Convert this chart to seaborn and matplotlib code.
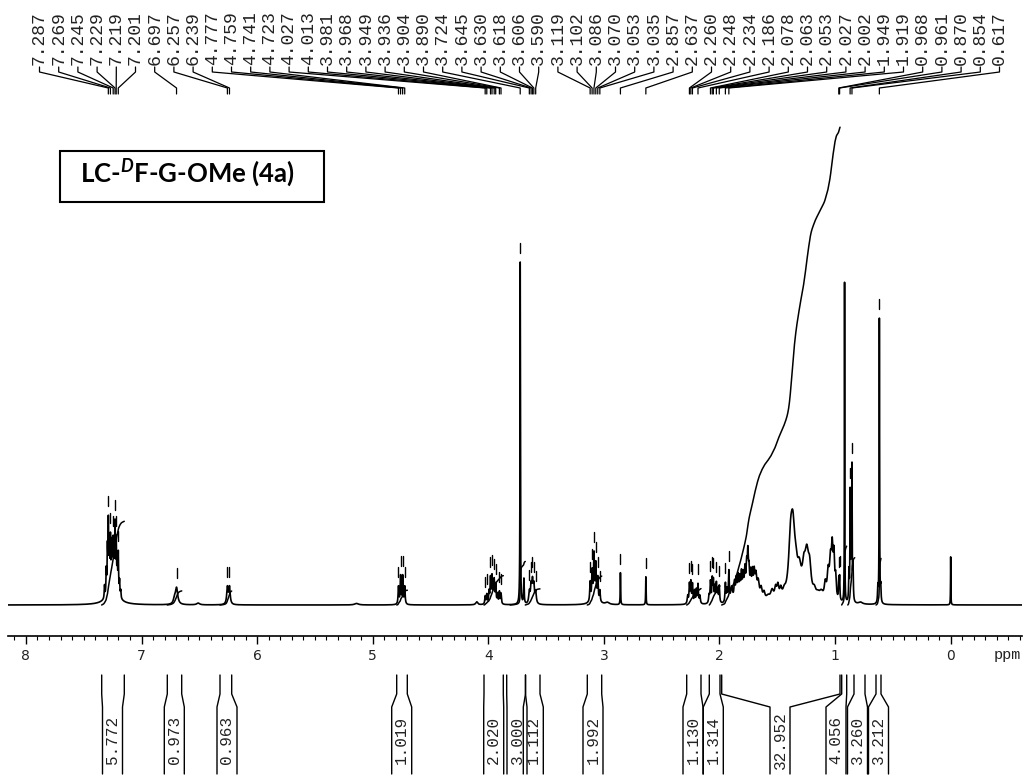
import numpy as np
import pandas as pd
import matplotlib
matplotlib.use("Agg")
import matplotlib.pyplot as plt
import seaborn as sns
from matplotlib.patches import Rectangle
from matplotlib.ticker import MultipleLocator

# ---------------------------------------------------------------- data
# picked peak positions (ppm), printed along the top
pick_ppm = [7.287, 7.269, 7.245, 7.229, 7.219, 7.201, 6.697, 6.257, 6.239,
            4.777, 4.759, 4.741, 4.723, 4.027, 4.013, 3.981, 3.968, 3.949,
            3.936, 3.904, 3.890, 3.724, 3.645, 3.630, 3.618, 3.606, 3.590,
            3.119, 3.102, 3.086, 3.070, 3.053, 3.035, 2.857, 2.637, 2.260,
            2.248, 2.234, 2.186, 2.078, 2.063, 2.053, 2.027, 2.002, 1.949,
            1.919, 0.968, 0.961, 0.870, 0.854, 0.617]

# resonance lines of the 1H spectrum: position (ppm), height, half width (ppm)
line_ppm = [7.320, 7.305, 7.295, 7.287, 7.278, 7.269, 7.260, 7.252, 7.245,
            7.236, 7.229, 7.219, 7.210, 7.201, 7.190, 7.180, 7.250,
            6.715, 6.697, 6.510, 6.257, 6.239, 5.140,
            4.777, 4.759, 4.741, 4.723, 4.100,
            4.027, 4.013, 3.994, 3.981, 3.968, 3.955, 3.949, 3.936, 3.920,
            3.904, 3.890, 3.724, 3.692,
            3.645, 3.630, 3.618, 3.606, 3.590,
            3.119, 3.102, 3.086, 3.070, 3.053, 3.035, 3.080, 2.970,
            2.857, 2.637,
            2.275, 2.260, 2.248, 2.234, 2.215, 2.200, 2.186, 2.170,
            2.090, 2.078, 2.063, 2.053, 2.040, 2.027, 2.015, 2.002,
            1.949, 1.935, 1.919,
            1.895, 1.870, 1.855, 1.840, 1.825, 1.810, 1.795, 1.780, 1.765,
            1.755, 1.745, 1.730, 1.715, 1.700, 1.685, 1.665, 1.640, 1.615,
            1.690, 1.580, 1.545, 1.515, 1.495, 1.470, 1.440,
            1.385, 1.365, 1.340, 1.310, 1.300,
            1.270, 1.245, 1.220, 1.180, 1.150, 1.120,
            1.085, 1.060, 1.040, 1.025, 1.010, 0.995, 0.968, 0.961,
            0.918, 0.880, 0.870, 0.862, 0.854, 0.845, 0.780,
            0.630, 0.617, 0.605, 0.000]
line_height = [2.5, 5.0, 8.5, 13.5, 8, 9.5, 6, 7.5, 8,
               6.5, 12, 9.5, 6, 8, 3.0, 1.5, 3,
               1.0, 3.3, 0.35, 3.4, 3.4, 0.3,
               3.5, 5.6, 5.6, 3.5, 0.6,
               1.6, 1.9, 2.4, 5.0, 5.2, 3.2, 3.7, 3.7, 1.9,
               2.4, 2.1, 68.5, 5.0,
               2.3, 3.4, 4.1, 3.4, 2.3,
               3.8, 5.6, 8.5, 6.6, 4.4, 2.2, 1.5, 0.4,
               6.4, 5.6,
               1.6, 3.8, 4.2, 3.8, 2.5, 2.7, 3.8, 1.6,
               1.6, 4.2, 4.6, 4.2, 3.0, 3.8, 2.5, 3.4,
               3.8, 2.5, 6.0,
               3.0, 3.5, 4.0, 4.5, 4.0, 5.0, 4.5, 5.5, 6.0,
               7.5, 5.0, 4.5, 4.5, 4.0, 3.5, 3.0, 2.2, 1.5,
               1.5, 1.0, 2.0, 2.2, 2.6, 1.8, 1.2,
               10.0, 11.0, 4.0, 3.0, 2.0,
               4.0, 8.0, 5.0, 1.5, 1.0, 1.5,
               3.0, 5.0, 7.0, 9.0, 8.0, 4.0, 4.0, 4.5,
               64.0, 6.0, 21.0, 10.0, 26.0, 7.0, 0.4,
               3.0, 57.0, 3.0, 9.6]
line_hw = [0.003, 0.003, 0.003, 0.003, 0.003, 0.003, 0.003, 0.003, 0.003,
           0.003, 0.003, 0.003, 0.003, 0.003, 0.003, 0.003, 0.05,
           0.010, 0.012, 0.015, 0.007, 0.007, 0.020,
           0.004, 0.004, 0.004, 0.004, 0.010,
           0.004, 0.004, 0.004, 0.004, 0.004, 0.004, 0.004, 0.004, 0.004,
           0.004, 0.004, 0.002, 0.003,
           0.006, 0.006, 0.006, 0.006, 0.006,
           0.004, 0.004, 0.004, 0.004, 0.004, 0.004, 0.030, 0.020,
           0.002, 0.002,
           0.005, 0.004, 0.004, 0.004, 0.004, 0.004, 0.004, 0.005,
           0.005, 0.004, 0.004, 0.004, 0.004, 0.004, 0.004, 0.004,
           0.004, 0.005, 0.004,
           0.010, 0.006, 0.006, 0.006, 0.006, 0.006, 0.006, 0.006, 0.006,
           0.005, 0.006, 0.006, 0.006, 0.006, 0.008, 0.010, 0.010, 0.010,
           0.030, 0.020, 0.015, 0.010, 0.010, 0.010, 0.015,
           0.020, 0.020, 0.020, 0.015, 0.040,
           0.015, 0.020, 0.015, 0.015, 0.020, 0.020,
           0.010, 0.010, 0.010, 0.008, 0.007, 0.006, 0.003, 0.003,
           0.0015, 0.003, 0.002, 0.003, 0.002, 0.003, 0.020,
           0.003, 0.002, 0.003, 0.0015]

# integration regions (ppm from, ppm to) and their values
int_from = [7.345, 6.777, 6.321, 4.792, 4.037, 3.812, 3.680, 3.144,
            2.284, 2.088, 1.981, 0.943, 0.890, 0.646]
int_to = [7.149, 6.652, 6.220, 4.700, 3.870, 3.680, 3.553, 3.019,
          2.160, 1.996, 0.957, 0.900, 0.830, 0.603]
int_value = [5.772, 0.973, 0.963, 1.019, 2.020, 3.000, 1.112, 1.992,
             1.130, 1.314, 32.952, 4.056, 3.260, 3.212]

title = "LC-$^{\\mathit{D}}$F-G-OMe (4a)"

# ---------------------------------------------------------------- layout
W, H = 1027, 778
X0, X1 = 8, 1022                  # horizontal extent of the ppm axis (px)
PPM_L, PPM_R = 8.155, -0.617
AXIS_Y, TOP_Y = 636, 105          # axis line and top of plotting area (px)
Y_MIN, Y_MAX = -6.2, 100.0        # intensity range of the spectrum axes
INT_SCALE = 2.90                  # intensity units per integral unit

def px_to_ppm(px):
    return PPM_L - (px - X0) / (X1 - X0) * (PPM_L - PPM_R)

# integral bracket geometry (px): leg tops and centre of the printed value
int_label_px = [112.5, 174.3, 227.0, 401.7, 493.7, 517.0, 533.3, 593.0,
                693.0, 713.3, 780.0, 836.0, 857.5, 878.5]
int_top_px = [(101.7, 124.3), (167.3, 181.7), (220.0, 231.7), (396.7, 407.3),
              (484.0, 503.3), (506.7, 525.5), (525.5, 540.0), (587.3, 601.7),
              (686.7, 701.0), (709.3, 720.0), (721.7, 840.0), (841.7, 846.7),
              (854.0, 865.0), (876.0, 881.0)]

sns.set_theme(style="white")
plt.rcParams["mathtext.fontset"] = "custom"
plt.rcParams["mathtext.it"] = "Lato:italic:bold"
plt.rcParams["mathtext.rm"] = "Lato:bold"

fig = plt.figure(figsize=(W / 100, H / 100), dpi=100)
fig.patch.set_facecolor("white")

ax = fig.add_axes([X0 / W, (H - AXIS_Y) / H, (X1 - X0) / W,
                   (AXIS_Y - TOP_Y) / H])
ax.set_xlim(PPM_L, PPM_R)
ax.set_ylim(Y_MIN, Y_MAX)
ax.patch.set_alpha(0)

# spectrum as a sum of Lorentzian lines
ppm = np.linspace(PPM_L, PPM_R, 60000)
lp = np.asarray(line_ppm)[:, None]
lh = np.asarray(line_height)[:, None]
lw = np.asarray(line_hw)[:, None]
intensity = (lh / (1.0 + ((ppm[None, :] - lp) / lw) ** 2)).sum(axis=0)
spec = pd.DataFrame({"ppm": ppm, "intensity": intensity})
sns.lineplot(data=spec, x="ppm", y="intensity", ax=ax, color="black",
             linewidth=1.2, estimator=None, sort=False)

# running integrals over each region
for a, b, v in zip(int_from, int_to, int_value):
    m = (ppm <= a) & (ppm >= b)
    cum = np.cumsum(intensity[m])
    cum = cum / cum[-1] * v * INT_SCALE
    seg = pd.DataFrame({"ppm": ppm[m], "integral": cum})
    sns.lineplot(data=seg, x="ppm", y="integral", ax=ax, color="black",
                 linewidth=1.1, estimator=None, sort=False)

# peak-pick marks above each picked line
pick_h = np.interp(pick_ppm, ppm[::-1], intensity[::-1])
for p, h in zip(pick_ppm, pick_h):
    ax.plot([p, p], [h + 1.8, h + 3.8], color="black", lw=1.0)

for s in ("left", "right", "top"):
    ax.spines[s].set_visible(False)
ax.spines["bottom"].set_color("black")
ax.spines["bottom"].set_linewidth(1.2)
ax.set_yticks([])
ax.set_xticks(range(0, 9))
ax.xaxis.set_minor_locator(MultipleLocator(0.1))
ax.tick_params(axis="x", which="major", direction="out", length=6,
               width=1.0, color="black", labelsize=10, pad=3,
               labelcolor="#222222", bottom=True)
ax.tick_params(axis="x", which="minor", direction="out", length=3,
               width=0.8, color="black", bottom=True)
ax.set_xlabel("")
ax.set_ylabel("")
ax.grid(False)

# annotation layer in pixel rows
ann = fig.add_axes([X0 / W, 0, (X1 - X0) / W, 1])
ann.set_xlim(PPM_L, PPM_R)
ann.set_ylim(H, 0)
ann.axis("off")
ann.patch.set_alpha(0)

ann.text(px_to_ppm(1021), 655, "ppm", family="Liberation Mono",
         fontsize=11, ha="right", va="center", color="#222222")

# picked-peak labels with leader lines
n = len(pick_ppm)
lab0, lab1 = 39.5, 999.5
for i, p in enumerate(pick_ppm):
    xl = px_to_ppm(lab0 + i * (lab1 - lab0) / (n - 1))
    ann.text(xl, 65, f"{p:.3f}", rotation=90, ha="center", va="bottom",
             family="Liberation Mono", fontsize=13, color="#222222")
    ann.plot([xl, xl, p, p], [67, 72, 88, 94], color="black", lw=0.9)

# integral brackets and values
for (ta, tb), v, c in zip(int_top_px, int_value, int_label_px):
    a, b = px_to_ppm(ta), px_to_ppm(tb)
    left = px_to_ppm(c - 10)
    right = px_to_ppm(c + 10)
    ann.plot([a, a, left, left], [675, 694, 707, 774], color="black", lw=1.0)
    ann.plot([b, b, right, right], [675, 694, 707, 774], color="black", lw=1.0)
    ann.text(px_to_ppm(c), 740, f"{v:.3f}", rotation=90, ha="center",
             va="center", family="Liberation Mono", fontsize=11.5,
             color="#222222")

# compound label
fig.add_artist(Rectangle((60 / W, 1 - 202 / H), 264 / W, 51 / H,
                         transform=fig.transFigure, fill=False,
                         ec="black", lw=1.5))
fig.text(80 / W, 1 - 182.5 / H, title, family="Lato", fontweight="bold",
         fontsize=18.5, ha="left", va="baseline", color="black")

fig.savefig("out.png", dpi=100, facecolor="white")
